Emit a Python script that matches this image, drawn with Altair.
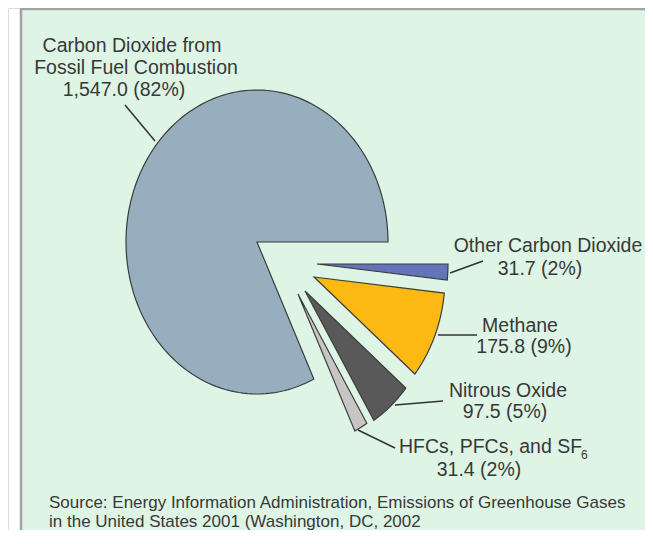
import altair as alt
import pandas as pd

# ---------------- data ----------------
categories = [
    "Other Carbon Dioxide",
    "Methane",
    "Nitrous Oxide",
    "HFCs, PFCs, and SF6",
    "Carbon Dioxide from Fossil Fuel Combustion",
]
values = [31.7, 175.8, 97.5, 31.4, 1547.0]
colors = ["#6374b8", "#fdb913", "#595959", "#c6c6c6", "#96aebd"]

label_first_lines = [
    ["Other Carbon Dioxide"],
    ["Methane"],
    ["Nitrous Oxide"],
    ["HFCs, PFCs, and SF"],
    ["Carbon Dioxide from", "Fossil Fuel Combustion"],
]
source_lines = [
    "Source: Energy Information Administration, Emissions of Greenhouse Gases",
    " in the United States 2001 (Washington, DC, 2002",
]

total = sum(values)
value_lines = [f"{v:,.1f} ({round(100 * v / total)}%)" for v in values]

# ---------------- styles / layout ----------------
W, H = 637, 522
CX, CY = 257, 242          # page position of pie centre
RX, RY = 131, 152          # pie radii in page pixels
explode_px = [(60, 22), (57, 35), (48, 49), (41, 52), (0, 0)]

def ux(px):
    return (px - CX) / RX

def uy(py):
    return (CY - py) / RY

xscale = alt.Scale(domain=[ux(8), ux(8 + W)], nice=False, zero=False)
yscale = alt.Scale(domain=[uy(8 + H), uy(8)], nice=False, zero=False)
X = lambda f: alt.X(f, type="quantitative", scale=xscale, axis=None)
Y = lambda f: alt.Y(f, type="quantitative", scale=yscale, axis=None)

# ---------------- pie slices (polygons through x/y scales) ----------------
slices = pd.DataFrame({"cat": categories, "value": values, "order": range(len(values))})

def pick(lst):
    expr = "0"
    for c, v in zip(categories, lst):
        expr = f"(datum.cat === '{c}' ? {v} : {expr})"
    return expr

ox_expr = pick([p[0] / RX for p in explode_px])
oy_expr = pick([-p[1] / RY for p in explode_px])

NPTS = 150
pie = (
    alt.Chart(slices)
    .transform_window(cum="sum(value)", sort=[alt.SortField("order")], frame=[None, 0])
    .transform_joinaggregate(total="sum(value)")
    .transform_calculate(
        a0="2*PI*(datum.cum - datum.value)/datum.total + PI/2",
        a1="2*PI*datum.cum/datum.total + PI/2",
        k=f"sequence(0, {NPTS + 1})",
    )
    .transform_flatten(["k"])
    .transform_calculate(ang=f"datum.a0 + (datum.a1 - datum.a0)*(datum.k - 1)/{NPTS - 1}")
    .transform_calculate(
        px=f"(datum.k === 0 ? 0 : sin(datum.ang)) + {ox_expr}",
        py=f"(datum.k === 0 ? 0 : cos(datum.ang)) + {oy_expr}",
    )
    .mark_line(interpolate="linear-closed", stroke="#3c3c3c", strokeWidth=1.2)
    .encode(
        x=X("px"),
        y=Y("py"),
        order=alt.Order("k:Q"),
        detail="cat:N",
        fill=alt.Fill("cat:N", scale=alt.Scale(domain=categories, range=colors), legend=None),
    )
)

# ---------------- frame ----------------
frame = alt.Chart(pd.DataFrame({"a": [0]})).mark_rect(
    fill="#def5e6", stroke="#a2a2a2", strokeWidth=2.5
).encode(x=alt.value(13), x2=alt.value(W + 40), y=alt.value(1), y2=alt.value(H + 40))

# ---------------- leader lines ----------------
leaders_px = [
    (450, 273, 483, 261),
    (438, 335, 477, 335),
    (395, 405, 443, 401),
    (358, 430, 395, 448),
    (125, 105, 155, 141),
]
leaders = pd.DataFrame(
    {
        "x": [ux(a) for a, b, c, d in leaders_px],
        "y": [uy(b) for a, b, c, d in leaders_px],
        "x2": [ux(c) for a, b, c, d in leaders_px],
        "y2": [uy(d) for a, b, c, d in leaders_px],
    }
)
rules = alt.Chart(leaders).mark_rule(color="#333333", strokeWidth=1.5).encode(
    x=X("x"), y=Y("y"), x2="x2", y2="y2"
)

# ---------------- labels ----------------
TXT = "#383838"
FONT = "Liberation Sans"

center_rows = []
# (centre x, baseline y) per line, page pixels
center_pos = {
    0: [(548, 252), (540, 275)],
    1: [(520, 332), (524, 353)],
    2: [(508, 397), (505, 418)],
    3: [None, (479, 476)],
    4: [(132, 52), (136, 74), (124, 96)],
}
for i in range(len(categories)):
    lines = label_first_lines[i] + [value_lines[i]]
    for line, pos in zip(lines, center_pos[i]):
        if pos is None:
            continue
        center_rows.append({"t": line, "x": ux(pos[0]), "y": uy(pos[1])})
center_df = pd.DataFrame(center_rows)

center_text = alt.Chart(center_df).mark_text(
    align="center", baseline="alphabetic", fontSize=19.5, font=FONT, color=TXT
).encode(x=X("x"), y=Y("y"), text="t:N")

hfc_df = pd.DataFrame({"t": [label_first_lines[3][0]], "x": [ux(399)], "y": [uy(453)]})
hfc_text = alt.Chart(hfc_df).mark_text(
    align="left", baseline="alphabetic", fontSize=19.5, font=FONT, color=TXT
).encode(x=X("x"), y=Y("y"), text="t:N")

sub_df = pd.DataFrame({"t": ["6"], "x": [ux(581)], "y": [uy(459)]})
sub_text = alt.Chart(sub_df).mark_text(
    align="left", baseline="alphabetic", fontSize=12, font=FONT, color=TXT
).encode(x=X("x"), y=Y("y"), text="t:N")

src_df = pd.DataFrame(
    {"t": source_lines, "x": [ux(49), ux(49)], "y": [uy(508), uy(527)]}
)
src_text = alt.Chart(src_df).mark_text(
    align="left", baseline="alphabetic", fontSize=17, font=FONT, color=TXT
).encode(x=X("x"), y=Y("y"), text="t:N")

chart = (
    alt.layer(frame, pie, rules, center_text, hfc_text, sub_text, src_text)
    .properties(width=W, height=H, padding=0, autosize=alt.AutoSizeParams(type="none"))
    .configure_view(stroke=None)
    .configure(background="white")
)

chart.save("out.html", embed_options={"renderer": "svg", "actions": False})
